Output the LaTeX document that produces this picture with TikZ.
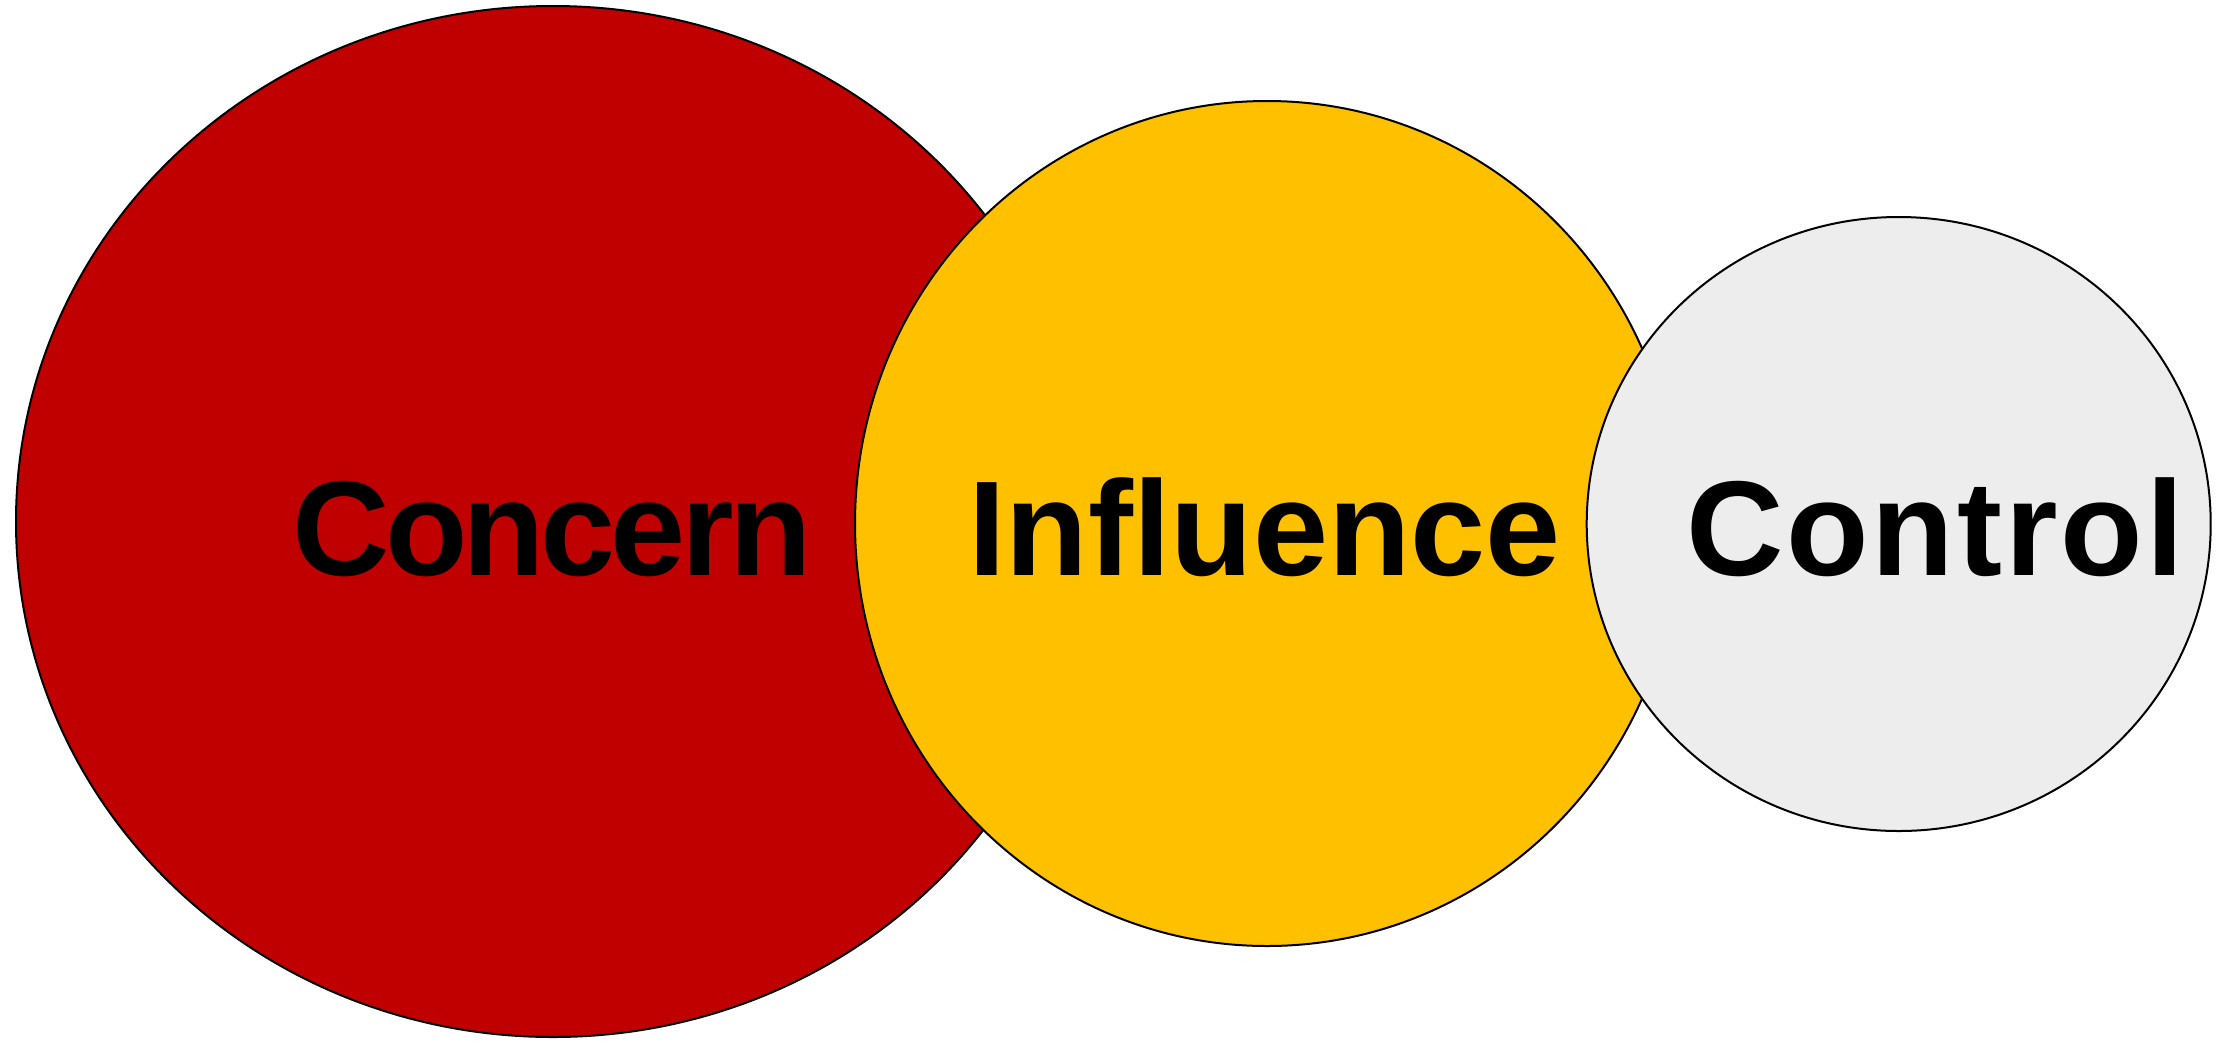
\documentclass[tikz,border=0pt]{standalone}
\usepackage{fontspec}
\setmainfont{Liberation Sans}
\definecolor{concernred}{RGB}{192,0,0}
\definecolor{influenceyellow}{RGB}{255,192,0}
\definecolor{controlgray}{RGB}{237,237,237}
\begin{document}
\begin{tikzpicture}[x=1pt,y=-1pt,
  zone/.style={draw=black,line width=2pt},
  zonelabel/.style={inner sep=0pt,anchor=base west,font=\fontsize{135}{150}\selectfont\bfseries}]
\useasboundingbox (0,0) rectangle (2226,1042);
\fill[white] (0,0) rectangle (2226,1042);
\draw[zone,fill=concernred] (553,521.5) ellipse [x radius=537pt, y radius=515.5pt];
\draw[zone,fill=influenceyellow] (1267,523.5) ellipse [x radius=412pt, y radius=422.5pt];
\draw[zone,fill=controlgray] (1898.7,524) ellipse [x radius=312pt, y radius=307pt];
\node[zonelabel] (concern) at (292,575) {\addfontfeature{LetterSpace=-3.5}Concern};
\node[zonelabel] (influence) at (968,575) {Influence};
\node[zonelabel] (control) at (1686,575) {\addfontfeature{LetterSpace=2.2}Control};
\end{tikzpicture}
\end{document}
